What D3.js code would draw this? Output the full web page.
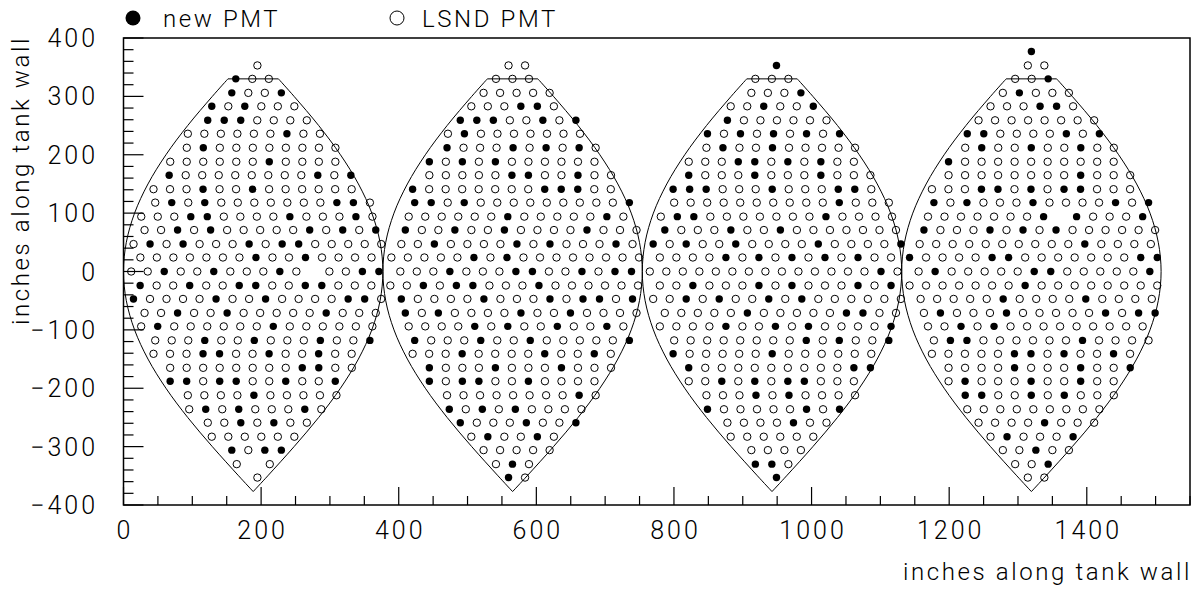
<!DOCTYPE html>
<html lang="en">
<head>
<meta charset="UTF-8">
<script src="https://d3js.org/d3.v7.min.js"></script>
<title>PMT layout</title>
<style>
  body { margin: 0; background: #fff; }
  text { font-family: Roboto, "DejaVu Sans", sans-serif; font-weight: 300; fill: #000; }
  .tick { font-size: 25px; letter-spacing: 3px; }
  .title { font-size: 24px; letter-spacing: 2.6px; }
</style>
</head>
<body>
<div id="chart"></div>
<script>
// rows: [inches up the wall, first PMT along the row, pattern]  x = new PMT, o = LSND PMT, . = empty slot
var gore1Rows = [
  [353, 194.6, "o"],
  [330, 163.2, "xoo"],
  [306, 157.4, "xoox"],
  [283, 128.3, "xoxooo"],
  [259, 122.4, "xxxoooo"],
  [236, 93.5, "ooooooxoo"],
  [212, 92.0, "oxoooooooo"],
  [188, 67.9, "ooooooxoooo"],
  [165, 66.4, "xooooooooxox"],
  [141, 43.6, "oooxooxoooooo"],
  [118, 46.1, "oxoxoooooooxxo"],
  [94, 25.8, "oooxxooooxoooxo"],
  [71, 30.6, "ooxoxoooooxoxox"],
  [47, 14.6, "oxoxoooxoxxooooo"],
  [24, 24.5, "oooooooxooxoooo"],
  [0, 11.2, "ooxooxoooxo.ooxx"],
  [-24, 24.2, "xooxooxxooxxooo"],
  [-47, 14.5, "xooooxooxooooxxo"],
  [-71, 30.6, "ooxooxoooooxooo"],
  [-94, 25.7, "oxooooooxoooooo"],
  [-118, 46.1, "oooxooxoooxoox"],
  [-141, 43.6, "oooxxooxooxoo"],
  [-165, 67.8, "ooooooooxxoo"],
  [-188, 67.8, "xxoxxooxoox"],
  [-212, 93.5, "ooooxooooo"],
  [-236, 95.5, "oxoxoooxo"],
  [-259, 122.5, "ooxoxoo"],
  [-283, 128.3, "oooooo"],
  [-306, 157.4, "xoxx"],
  [-330, 164.6, "o.o"],
  [-353, 194.6, "o"]
];
var gore2Rows = [
  [353, 559.6, "oo"],
  [330, 541.3, "ooo"],
  [306, 523.3, "ooooo"],
  [283, 505.5, "oooxxo"],
  [259, 489.5, "xxxooxox"],
  [236, 471.5, "oxooooooo"],
  [212, 470.2, "xoooxoxoxo"],
  [188, 444.5, "xoxoxoooooo"],
  [165, 444.5, "oooooxxooxoo"],
  [141, 420.2, "xoooooooxxxoo"],
  [118, 423.2, "xxoxooooooooox"],
  [94, 414.5, "ooooooxoooooxo"],
  [71, 409.6, "xooxooxooooxooo"],
  [47, 403.8, "ooxooooxoxoooxo"],
  [24, 389.3, "oooooxoxoooooooo"],
  [0, 402.3, "oooxoooxxooxoxx"],
  [-24, 387.8, "ooxoxxoooxoooooo"],
  [-47, 403.8, "xooooxoooxoxxox"],
  [-71, 409.6, "xoxooooxooxoooo"],
  [-94, 414.5, "ooooxoxooxooxo"],
  [-118, 423.2, "xoooxooxooooox"],
  [-141, 420.2, "oooxooooxooxo"],
  [-165, 444.5, "xoooxoooxooo"],
  [-188, 444.5, "xoxxooxoooo"],
  [-212, 470.2, "ooooooooxo"],
  [-236, 473.5, "xoxoxoooo"],
  [-259, 489.5, "xoooxoox"],
  [-283, 505.5, "oxooxo"],
  [-306, 523.3, "ooooo"],
  [-330, 541.3, "oxo"],
  [-353, 559.6, "xo"]
];
var gore3Rows = [
  [353, 949.0, "x"],
  [330, 918.3, "ooo"],
  [306, 912.5, "ooox"],
  [283, 882.5, "ooxoox"],
  [259, 877.7, "xoooooo"],
  [236, 848.7, "xoxoxoxox"],
  [212, 847.2, "oxooxooooo"],
  [188, 821.5, "oooxxoxoxoo"],
  [165, 821.5, "xoooxoooxooo"],
  [141, 798.8, "xxxoooxoooxxo"],
  [118, 800.3, "ooooooooooxooo"],
  [94, 780.9, "oxxoooooooxoooo"],
  [71, 786.7, "xoooxooxooooooo"],
  [47, 769.8, "xoxooxooooxoooox"],
  [24, 779.5, "ooooxoxoxoxoxoo"],
  [0, 764.9, "ooooooooooooooxo"],
  [-24, 779.5, "ooxoooxoxoooxox"],
  [-47, 769.8, "ooxoxooxoxoooooo"],
  [-71, 786.7, "oooooxoooooxxoo"],
  [-94, 779.5, "ooooxooxoxoooox"],
  [-118, 800.3, "ooooooooxoxoox"],
  [-141, 798.8, "xoooooxoooooo"],
  [-165, 821.5, "xoooooooooxx"],
  [-188, 821.5, "ooxoxoxxooo"],
  [-212, 847.2, "oooxoxoooo"],
  [-236, 848.7, "xoooooxox"],
  [-259, 877.7, "ooooxoo"],
  [-283, 882.5, "oooooo"],
  [-306, 912.5, "oooo"],
  [-330, 918.3, "xxo"],
  [-353, 949.0, "x"]
];
var gore4Rows = [
  [377, 1319.5, "x"],
  [353, 1314.3, "oo"],
  [330, 1295.9, "oox"],
  [306, 1278.0, "oxooo"],
  [283, 1260.1, "oooxxo"],
  [259, 1242.7, "oooooooo"],
  [236, 1226.3, "xxooooxox"],
  [212, 1223.3, "oxooxooxoo"],
  [188, 1199.1, "xoooooooooo"],
  [165, 1199.1, "ooooooooxooo"],
  [141, 1174.9, "oooxxoxoxxooo"],
  [118, 1177.8, "xoxoooxooooxox"],
  [94, 1169.2, "ooooooox.xooox"],
  [71, 1163.3, "xoooxoxoxoooooo"],
  [47, 1157.1, "ooooooooooxoooo"],
  [24, 1142.4, "xooooxxoooooooxx"],
  [0, 1155.6, "oxoooooxxooooox"],
  [-24, 1142.4, "oooooooxoooooooo"],
  [-47, 1158.5, "oooooxooooxoooo"],
  [-71, 1163.3, "oxoooxoooooxoxx"],
  [-94, 1169.2, "ooxoxooooooooo"],
  [-118, 1177.8, "oxxooooooxoooo"],
  [-141, 1174.9, "oooooxxoxooxo"],
  [-165, 1199.1, "ooooxoooxoox"],
  [-188, 1199.1, "oxoooxooxoo"],
  [-212, 1223.3, "xxooxoxooo"],
  [-236, 1226.3, "ooooooooo"],
  [-259, 1242.7, "ooooxooo"],
  [-283, 1260.1, "oxooox"],
  [-306, 1278.0, "ooxoo"],
  [-330, 1295.9, "oox"],
  [-353, 1314.3, "oo"]
];
var pmtSpacing = 24;   // inches between neighbours in a row

// gore outline: centre of each gore and half width at each height
var goreCenters = [188.5, 565.5, 942.5, 1319.5];
var outlineY    = [330, 300, 250, 200, 150, 100, 50, 0, -50, -100, -150, -200, -250, -300, -350, -377];
var outlineHalf = [36.7, 59.4, 95.2, 126.8, 152.9, 172.4, 184.4, 188.5, 184.4, 172.4, 152.9, 126.8, 95.2, 59.4, 21.2, 0];

var xTicks = [0, 200, 400, 600, 800, 1000, 1200, 1400];
var yTicks = [-400, -300, -200, -100, 0, 100, 200, 300, 400];

var width = 1199, height = 592;
var svg = d3.select("#chart").append("svg").attr("width", width).attr("height", height);

var x = d3.scaleLinear().domain([0, 1550]).range([123.5, 1190]);
var y = d3.scaleLinear().domain([-400, 400]).range([505, 38]);

// ticks (drawn inward, ROOT style)
var xMinor = d3.range(0, 1551, 50), yMinor = d3.range(-400, 401, 20);
svg.append("g").selectAll("line").data(xMinor).enter().append("line")
  .attr("x1", d => x(d)).attr("x2", d => x(d))
  .attr("y1", y(-400)).attr("y2", d => y(-400) - (d % 200 == 0 ? 18 : 9))
  .attr("stroke", "#000").attr("stroke-width", 1.2);
svg.append("g").selectAll("line").data(yMinor).enter().append("line")
  .attr("y1", d => y(d)).attr("y2", d => y(d))
  .attr("x1", x(0)).attr("x2", d => x(0) + (d % 100 == 0 ? 20 : 10))
  .attr("stroke", "#000").attr("stroke-width", 1.2);

svg.append("rect").attr("x", x(0)).attr("y", y(400))
  .attr("width", x(1550) - x(0)).attr("height", y(-400) - y(400))
  .attr("fill", "none").attr("stroke", "#000").attr("stroke-width", 1.5);

svg.append("g").selectAll("text").data(xTicks).enter().append("text")
  .attr("class", "tick").attr("x", d => x(d) + 1.5).attr("y", 539).attr("text-anchor", "middle").text(d => d);
svg.append("g").selectAll("text").data(yTicks).enter().append("text")
  .attr("class", "tick").attr("x", 98).attr("y", d => y(d)).attr("dy", "0.36em").attr("text-anchor", "end")
  .text(d => d < 0 ? "\u2212" + (-d) : d);

svg.append("text").attr("class", "title").attr("x", 1192).attr("y", 580).attr("text-anchor", "end").text("inches along tank wall");
svg.append("text").attr("class", "title").attr("transform", "translate(29," + (y(400) - 2) + ") rotate(-90)")
  .attr("text-anchor", "end").text("inches along tank wall");

// gore outlines
var side = d3.line().x(d => x(d[0])).y(d => y(d[1])).curve(d3.curveCatmullRom);
goreCenters.forEach(function(c) {
  var g = svg.append("g").attr("fill", "none").attr("stroke", "#000").attr("stroke-width", 1);
  g.append("path").attr("d", side(outlineY.map((v, i) => [c + outlineHalf[i], v])));
  g.append("path").attr("d", side(outlineY.map((v, i) => [c - outlineHalf[i], v])));
  g.append("line").attr("x1", x(c - outlineHalf[0])).attr("x2", x(c + outlineHalf[0]))
    .attr("y1", y(outlineY[0])).attr("y2", y(outlineY[0]));
});

// PMTs
var pmts = [];
[gore1Rows, gore2Rows, gore3Rows, gore4Rows].forEach(function(rows) {
  rows.forEach(function(r) {
    r[2].split("").forEach(function(ch, i) {
      if (ch != ".") pmts.push({ x: r[1] + i * pmtSpacing, y: r[0], isNew: ch == "x" });
    });
  });
});
svg.append("g").selectAll("circle").data(pmts).enter().append("circle")
  .attr("cx", d => x(d.x)).attr("cy", d => y(d.y)).attr("r", 3.7)
  .attr("fill", d => d.isNew ? "#000" : "none")
  .attr("stroke", "#000").attr("stroke-width", d => d.isNew ? 0 : 1);

// legend
svg.append("circle").attr("cx", 133).attr("cy", 18).attr("r", 7.5).attr("fill", "#000");
svg.append("text").attr("class", "title").attr("x", 163).attr("y", 27).text("new PMT");
svg.append("circle").attr("cx", 397).attr("cy", 18).attr("r", 7).attr("fill", "none").attr("stroke", "#000");
svg.append("text").attr("class", "title").attr("x", 422).attr("y", 27).text("LSND PMT");
</script>
</body>
</html>
